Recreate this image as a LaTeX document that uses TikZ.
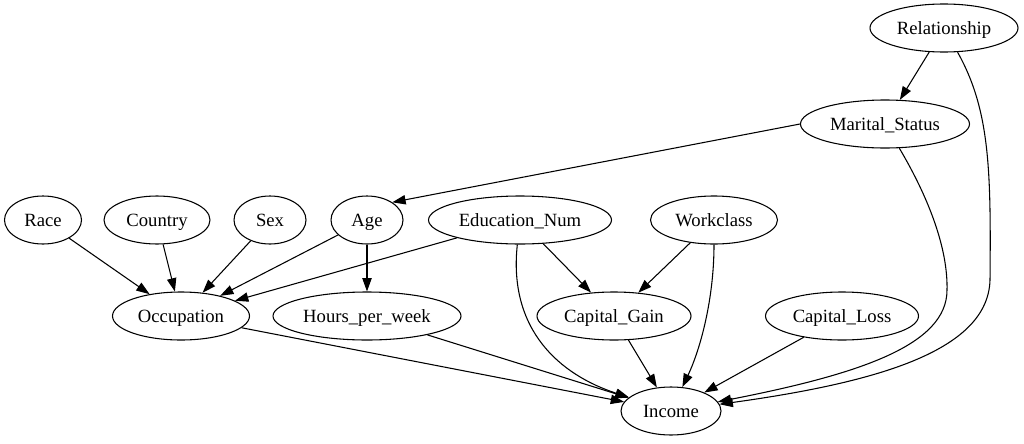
\documentclass[tikz,border=0pt]{standalone}
\usepackage{fontspec}
\setmainfont{Liberation Serif}
\usetikzlibrary{shapes.geometric,arrows.meta}

\begin{document}
\begin{tikzpicture}[x=.75pt, y=-.75pt, line width=.8pt,
    var/.style={draw, ellipse, inner sep=0pt, minimum height=36pt, text height=10pt, text depth=1pt,
        font=\fontsize{14}{16}\selectfont},
    wd/.style={minimum width=#1*.75pt},
    edge/.style={-{Triangle[length=10pt, width=7pt]}}]
            \useasboundingbox (0,0) rectangle (1024,443);

            \node[var, wd=148] (rel) at (944, 28) {Relationship};
            \node[var, wd=169] (mar) at (885, 124) {Marital\_Status};

            \node[var, wd=77] (race) at (43, 220) {Race};
            \node[var, wd=106] (country) at (157, 220) {Country};
            \node[var, wd=72] (sex) at (270, 220) {Sex};
            \node[var, wd=72] (age) at (367, 220) {Age};
            \node[var, wd=183] (edu) at (520, 220) {Education\_Num};
            \node[var, wd=127] (work) at (714, 220) {Workclass};

            \node[var, wd=137] (occ) at (181, 316) {Occupation};
            \node[var, wd=188] (hours) at (367, 316) {Hours\_per\_week};
            \node[var, wd=154] (gain) at (614, 316) {Capital\_Gain};
            \node[var, wd=153] (loss) at (842, 316) {Capital\_Loss};

            \node[var, wd=100] (inc) at (671, 411) {Income};

            \draw[edge] (rel) -- (mar);
            \draw[edge] (rel) .. controls (990, 110) and (991, 170) .. (990, 280)
                        .. controls (988, 350) and (880, 382) .. (inc);
            \draw[edge] (mar.west) -- (age.35);
            \draw[edge] (mar) .. controls (930, 200) and (948, 250) .. (947, 290)
                        .. controls (947, 345) and (860, 374) .. (inc);

            \draw[edge] (race) -- (occ);
            \draw[edge] (country) -- (occ);
            \draw[edge] (sex) -- (occ);
            \draw[edge] (age) -- (occ);
            \draw[edge] (edu) -- (occ);
            \draw[edge] (age) -- (hours);

            \draw[edge] (edu) -- (gain);
            \draw[edge] (edu) .. controls (508, 330) and (560, 375) .. (inc);
            \draw[edge] (work) -- (gain);
            \draw[edge] (work) .. controls (714, 300) and (700, 350) .. (inc);

            \draw[edge] (occ) -- (inc);
            \draw[edge] (hours) -- (inc);
            \draw[edge] (gain) -- (inc);
            \draw[edge] (loss) -- (inc);

            \end{tikzpicture}
\end{document}
